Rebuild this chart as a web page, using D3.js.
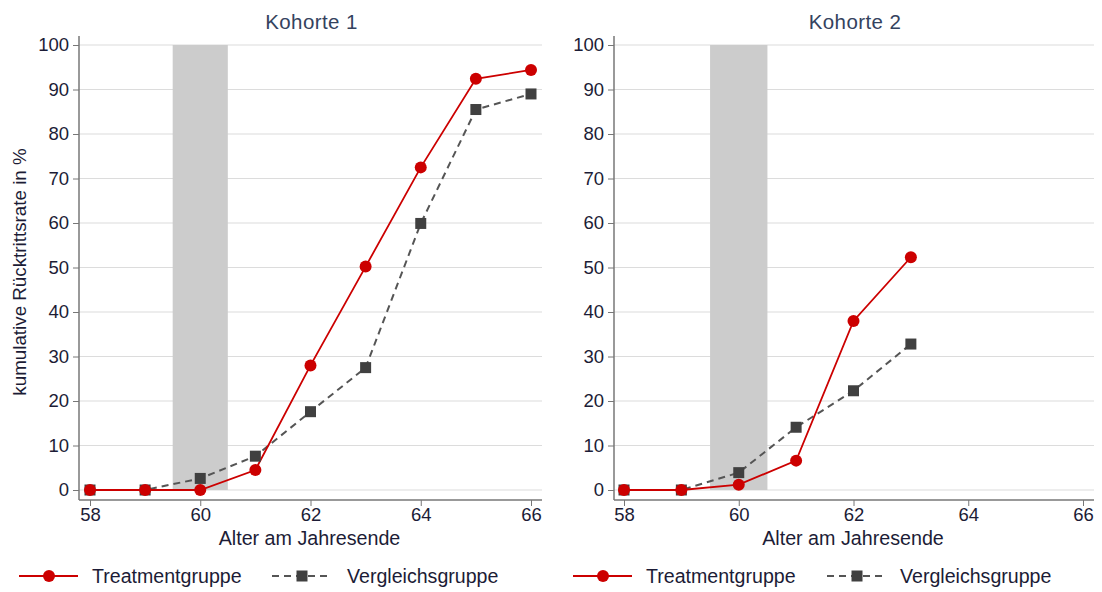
<!DOCTYPE html>
<html><head><meta charset="utf-8">
<script src="https://cdn.jsdelivr.net/npm/d3@7"></script>
<style>body{margin:0;background:#fff}svg{display:block}text{font-family:"Liberation Sans",Arial,sans-serif}</style>
</head><body><svg id="c" width="1102" height="592"></svg>
<script>
const panelTitles = ["Kohorte 1", "Kohorte 2"];
const ages1 = [58, 59, 60, 61, 62, 63, 64, 65, 66];
const treat1 = [0, 0, 0, 4.5, 28, 50.2, 72.5, 92.4, 94.4];
const comp1 = [0, 0, 2.6, 7.6, 17.6, 27.5, 59.9, 85.5, 89];
const ages2 = [58, 59, 60, 61, 62, 63];
const treat2 = [0, 0, 1.2, 6.6, 38, 52.3];
const comp2 = [0, 0, 3.9, 14.1, 22.3, 32.8];
const xTicks = [58, 60, 62, 64, 66];
const yTicks = [0, 10, 20, 30, 40, 50, 60, 70, 80, 90, 100];
const bandRange = [59.5, 60.5];
const seriesNames = ["Treatmentgruppe", "Vergleichsgruppe"];
const xLabel = "Alter am Jahresende";
const yLabel = "kumulative Rücktrittsrate in %";

const svg = d3.select("#c");
const RED = "#cc0000", DARK = "#404040", TXT = "#1c1c36";
const FONT = "Liberation Sans, Arial, sans-serif";

const panels = [
  {title: panelTitles[0], ages: ages1, t: treat1, c: comp1, axisX: 79, x0: 90, x1: 531, right: 542, legX: 19, legDX: 253, legDT: 75},
  {title: panelTitles[1], ages: ages2, t: treat2, c: comp2, axisX: 614, x0: 624, x1: 1083, right: 1094, legX: 573, legDX: 254, legDT: 73}
];
const yTop = 45, yBot = 490, axisY = 500;

panels.forEach(p => {
  const x = d3.scaleLinear().domain([58, 66]).range([p.x0, p.x1]);
  const y = d3.scaleLinear().domain([0, 100]).range([yBot, yTop]);
  const g = svg.append("g");
  g.selectAll(".grid").data(yTicks).join("line")
    .attr("x1", p.axisX).attr("x2", p.right)
    .attr("y1", d => y(d)).attr("y2", d => y(d))
    .attr("stroke", "#dcdcdc").attr("stroke-width", 1.2);
  g.append("rect").attr("x", x(bandRange[0])).attr("width", x(bandRange[1]) - x(bandRange[0]))
    .attr("y", y(100)).attr("height", y(0) - y(100)).attr("fill", "#cccccc");
  const ya = g.append("g").attr("transform", `translate(${p.axisX},0)`)
    .call(d3.axisLeft(y).tickValues(yTicks).tickSize(6).tickPadding(4));
  ya.select(".domain").attr("d", `M0,${yTop - 9}V${axisY}`).attr("stroke", "#777").attr("stroke-width", 1.5);
  ya.selectAll(".tick line").attr("stroke", "#777");
  ya.selectAll(".tick text").attr("font-size", 18.5).attr("fill", TXT).attr("font-family", FONT);
  const xa = g.append("g").attr("transform", `translate(0,${axisY})`)
    .call(d3.axisBottom(x).tickValues(xTicks).tickSize(6).tickPadding(2));
  xa.select(".domain").attr("d", `M${p.axisX},0H${p.right}`).attr("stroke", "#777").attr("stroke-width", 1.5);
  xa.selectAll(".tick line").attr("stroke", "#777");
  xa.selectAll(".tick text").attr("font-size", 18.5).attr("fill", TXT).attr("font-family", FONT);
  g.append("text").attr("x", (p.axisX + p.right) / 2 + 1).attr("y", 29).attr("text-anchor", "middle")
    .attr("font-size", 20.5).attr("letter-spacing", 0.4).attr("fill", "#34425e").text(p.title);
  g.append("text").attr("x", (p.axisX + p.right) / 2 - 1).attr("y", 545).attr("text-anchor", "middle")
    .attr("font-size", 19.7).attr("fill", TXT).text(xLabel);
  const line = d3.line().x((d, i) => x(p.ages[i])).y(d => y(d));
  g.append("path").datum(p.c).attr("d", line).attr("fill", "none").attr("stroke", "#555")
    .attr("stroke-width", 2).attr("stroke-dasharray", "7,5");
  g.append("path").datum(p.t).attr("d", line).attr("fill", "none").attr("stroke", RED).attr("stroke-width", 1.8);
  g.selectAll(".sq").data(p.c).join("rect")
    .attr("x", (d, i) => x(p.ages[i]) - 5.5).attr("y", d => y(d) - 5.5)
    .attr("width", 11).attr("height", 11).attr("fill", DARK);
  g.selectAll(".ci").data(p.t).join("circle")
    .attr("cx", (d, i) => x(p.ages[i])).attr("cy", d => y(d)).attr("r", 6).attr("fill", RED);
  const lx = p.legX, ly = 576;
  g.append("line").attr("x1", lx).attr("x2", lx + 59).attr("y1", ly).attr("y2", ly).attr("stroke", RED).attr("stroke-width", 1.8);
  g.append("circle").attr("cx", lx + 30).attr("cy", ly).attr("r", 6).attr("fill", RED);
  g.append("text").attr("x", lx + 73).attr("y", ly + 7).attr("font-size", 19.6).attr("fill", TXT).text(seriesNames[0]);
  const dx = lx + p.legDX;
  g.append("line").attr("x1", dx).attr("x2", dx + 60).attr("y1", ly).attr("y2", ly).attr("stroke", "#555").attr("stroke-width", 2).attr("stroke-dasharray", "7,5");
  g.append("rect").attr("x", dx + 24.5).attr("y", ly - 5.5).attr("width", 11).attr("height", 11).attr("fill", DARK);
  g.append("text").attr("x", dx + p.legDT).attr("y", ly + 7).attr("font-size", 19.6).attr("fill", TXT).text(seriesNames[1]);
});

svg.append("text").attr("transform", "translate(25.5,272) rotate(-90)").attr("text-anchor", "middle")
  .attr("font-size", 18.8).attr("fill", TXT).text(yLabel);
</script></body></html>
